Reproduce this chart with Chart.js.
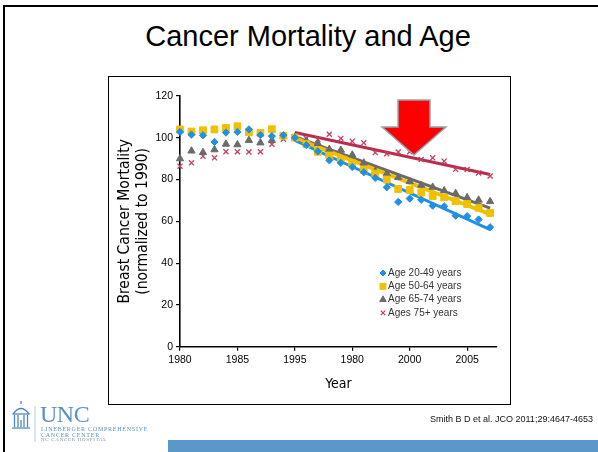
<!DOCTYPE html>
<html><head><meta charset="utf-8">
<script src="https://cdn.jsdelivr.net/npm/chart.js@4"></script>
<style>
html,body{margin:0;padding:0;background:#fff;}
body{width:598px;height:452px;position:relative;overflow:hidden;font-family:"Liberation Sans",Arial,sans-serif;}
#slide{position:absolute;left:3px;top:5px;width:620px;height:470px;border-left:2.5px solid #000;border-top:2.5px solid #000;}
#title{position:absolute;left:0;width:616px;top:21px;text-align:center;font-size:29px;color:#000;line-height:1.1;}
#frame{position:absolute;left:108px;top:76px;width:401px;height:327px;border:1px solid #000;}
#chart{position:absolute;left:0;top:0;}
#arrow{position:absolute;left:0;top:0;}
#cite{position:absolute;left:430px;top:414px;font-size:9px;color:#111;white-space:nowrap;}
#bar{position:absolute;left:168px;top:440px;width:440px;height:14px;background:#5B97C9;}
#logo{position:absolute;left:0;top:0;}
.lt{position:absolute;font-family:"Liberation Serif","Times New Roman",serif;color:#5E8FC4;white-space:nowrap;}
</style></head>
<body>
<div id="slide"></div>
<div id="title">Cancer Mortality and Age</div>
<div id="frame"></div>
<canvas id="chart" width="598" height="452"></canvas>
<svg id="arrow" width="598" height="452">
  <polygon points="398,100 430,100 430,127 446,127 414,155 382,127 398,127" fill="#FF0000" stroke="#8FA9B2" stroke-width="1.5"/>
</svg>
<svg id="logo" width="598" height="452">
  <g stroke="#4F86BF" fill="none" stroke-width="1.3">
    <path d="M13,414 Q21,403 29,414"/>
    <line x1="21" y1="404" x2="21" y2="401"/>
    <line x1="12.5" y1="414" x2="29.5" y2="414"/>
    <line x1="14.5" y1="415" x2="14.5" y2="427"/>
    <line x1="18" y1="415" x2="18" y2="427"/>
    <line x1="24" y1="415" x2="24" y2="427"/>
    <line x1="27.5" y1="415" x2="27.5" y2="427"/>
    <line x1="12" y1="428" x2="30" y2="428"/>
    <line x1="21" y1="420" x2="21" y2="427"/>
  </g>
  <line x1="35" y1="406" x2="35" y2="442" stroke="#B9CDE3" stroke-width="1"/>
</svg>
<div class="lt" style="left:40px;top:401px;font-size:24px;letter-spacing:-0.5px;">UNC</div>
<div class="lt" style="left:41px;top:426px;font-size:6px;letter-spacing:0.75px;">LINEBERGER COMPREHENSIVE</div>
<div class="lt" style="left:41px;top:431.5px;font-size:6px;letter-spacing:0.75px;">CANCER CENTER</div>
<div class="lt" style="left:41px;top:437px;font-size:5px;letter-spacing:0.7px;color:#7F95AC;">NC CANCER HOSPITAL</div>
<div id="cite">Smith B D et al. JCO 2011;29:4647-4653</div>
<div id="bar"></div>
<script>
// ---- data ----
const years = [1980,1981,1982,1983,1984,1985,1986,1987,1988,1989,1990,1991,1992,1993,1994,1995,1996,1997,1998,1999,2000,2001,2002,2003,2004,2005,2006,2007];
const age20_49 = [102.8,101.5,101.2,98.0,102.5,102.8,104.0,101.3,100.8,101.2,100.0,96.5,93.5,89.2,88.0,86.0,83.5,80.8,76.3,69.3,70.9,70.3,67.5,67.2,62.7,62.5,60.9,57.2];
const age50_64 = [104.0,103.0,103.6,104.0,104.7,105.5,102.7,102.3,104.1,101.0,100.1,97.0,93.3,91.5,89.5,87.8,84.6,82.9,80.0,75.5,75.0,73.7,72.0,71.5,69.7,68.3,66.5,64.0];
const age65_74 = [90.0,93.7,93.0,94.3,97.0,96.7,98.8,97.6,98.8,100.7,100.4,98.5,97.3,94.5,94.1,91.8,88.0,84.0,82.8,81.0,79.1,77.3,76.4,74.7,73.4,71.4,70.2,69.5];
const age75plus = [86.4,88.0,91.2,90.4,93.3,93.3,93.2,93.3,96.9,99.3,100.0,99.6,99.2,101.7,99.7,98.3,97.6,92.9,92.4,93.2,93.3,89.6,90.4,88.8,84.9,84.8,83.2,81.7];
const fitYears = [1990, 2007];
const fit20_49 = [98.7, 56.0];
const fit50_64 = [99.8, 63.4];
const fit65_74 = [100.5, 66.3];
const fit75plus = [102.5, 82.4];
const seriesNames = ['Age 20-49 years','Age 50-64 years','Age 65-74 years','Ages 75+ years'];
const tickYears = [1980,1985,1990,1995,2000,2005];
const tickLabels = ['1980','1985','1995','1980','2000','2005'];
const yTicks = [0,20,40,60,80,100,120];

const BLUE='#1F8FE8', YEL='#F0C000', GRAY='#6B6B6B', RED='#B82D4D', REDX='#C43F60';
const pts = (ys)=> years.map((x,i)=>({x, y: ys[i]}));
const fit = (ys)=> fitYears.map((x,i)=>({x, y: ys[i]}));

const scat = (label, data, color, style, r, bw)=>({type:'scatter', label, data: pts(data), pointStyle: style, pointRadius: r,
  backgroundColor: color, borderColor: color, pointBorderWidth: bw, pointHoverRadius: r, showLine:false, clip:false});
const line = (data, color, w)=>({type:'line', label:'', data: fit(data), borderColor: color, borderWidth: w,
  pointRadius: 0, fill:false, tension:0, clip:false});

const legendPlugin = {
  id:'insideLegend',
  afterDatasetsDraw(chart){
    const ctx = chart.ctx;
    const items = [0,1,2,3].map(i=>chart.data.datasets[i]);
    ctx.save();
    ctx.font = '10px "Liberation Sans", Arial, sans-serif';
    ctx.textBaseline = 'middle';
    items.forEach((ds,i)=>{
      const x = chart.chartArea.left + 203, y = 273 + i*13.3;
      const sizes=[3,4.2,3.8,3.2];
      ctx.fillStyle = ds.backgroundColor; ctx.strokeStyle = ds.borderColor; ctx.lineWidth = ds.pointBorderWidth;
      Chart.helpers.drawPoint(ctx, {pointStyle: ds.pointStyle, radius: sizes[i], borderWidth: ds.pointBorderWidth}, x, y);
      ctx.fillStyle = '#333';
      ctx.fillText(ds.label, x + 5, y);
    });
    ctx.restore();
  }
};

const axisTitleFont = '"Liberation Sans Narrow", "DejaVu Sans Condensed", "Liberation Sans", Arial';
new Chart(document.getElementById('chart'), {
  data: { datasets: [
    scat(seriesNames[0], age20_49, BLUE, 'rectRot', 3.6, 1),
    scat(seriesNames[1], age50_64, YEL, 'rect', 4.8, 1),
    scat(seriesNames[2], age65_74, GRAY, 'triangle', 4.2, 1),
    scat(seriesNames[3], age75plus, REDX, 'crossRot', 3.6, 1.3),
    line(fit20_49, BLUE, 3),
    line(fit50_64, YEL, 4),
    line(fit65_74, GRAY, 3),
    line(fit75plus, RED, 3)
  ]},
  options: {
    responsive:false, animation:false, devicePixelRatio:1,
    layout:{padding:{left:108, right:101, top:96, bottom:48}},
    plugins:{legend:{display:false}, tooltip:{enabled:false}},
    scales:{
      x:{type:'linear', min:1980, max:2007.6,
        afterBuildTicks(s){ s.ticks = tickYears.map(v=>({value:v})); },
        afterFit(s){ s.height = 57.3; },
        ticks:{callback:(v)=>tickLabels[tickYears.indexOf(v)], color:'#000', font:{size:10.5, family:'"Liberation Sans", Arial'}, padding:3, maxRotation:0, autoSkip:false},
        grid:{display:true, drawOnChartArea:false, drawTicks:true, tickLength:4, color:'#000', lineWidth:1.2},
        border:{display:true, color:'#000', width:1.6},
        title:{display:true, text:'Year', color:'#000', font:{size:14, family:axisTitleFont, lineHeight:1.2}, padding:{top:0,bottom:11}}
      },
      y:{type:'linear', min:0, max:120,
        afterBuildTicks(s){ s.ticks = yTicks.map(v=>({value:v})); },
        afterFit(s){ s.width = 72; },
        ticks:{color:'#000', font:{size:10.5, family:'"Liberation Sans", Arial'}, padding:3},
        grid:{display:true, drawOnChartArea:false, drawTicks:true, tickLength:4, color:'#000', lineWidth:1.2},
        border:{display:true, color:'#000', width:1.6},
        title:{display:true, text:['Breast Cancer Mortality','(normalized to 1990)'], color:'#000', font:{size:15.5, family:axisTitleFont, lineHeight:1.16}, padding:{top:8,bottom:0}}
      }
    }
  },
  plugins:[legendPlugin]
});
</script>
</body></html>
